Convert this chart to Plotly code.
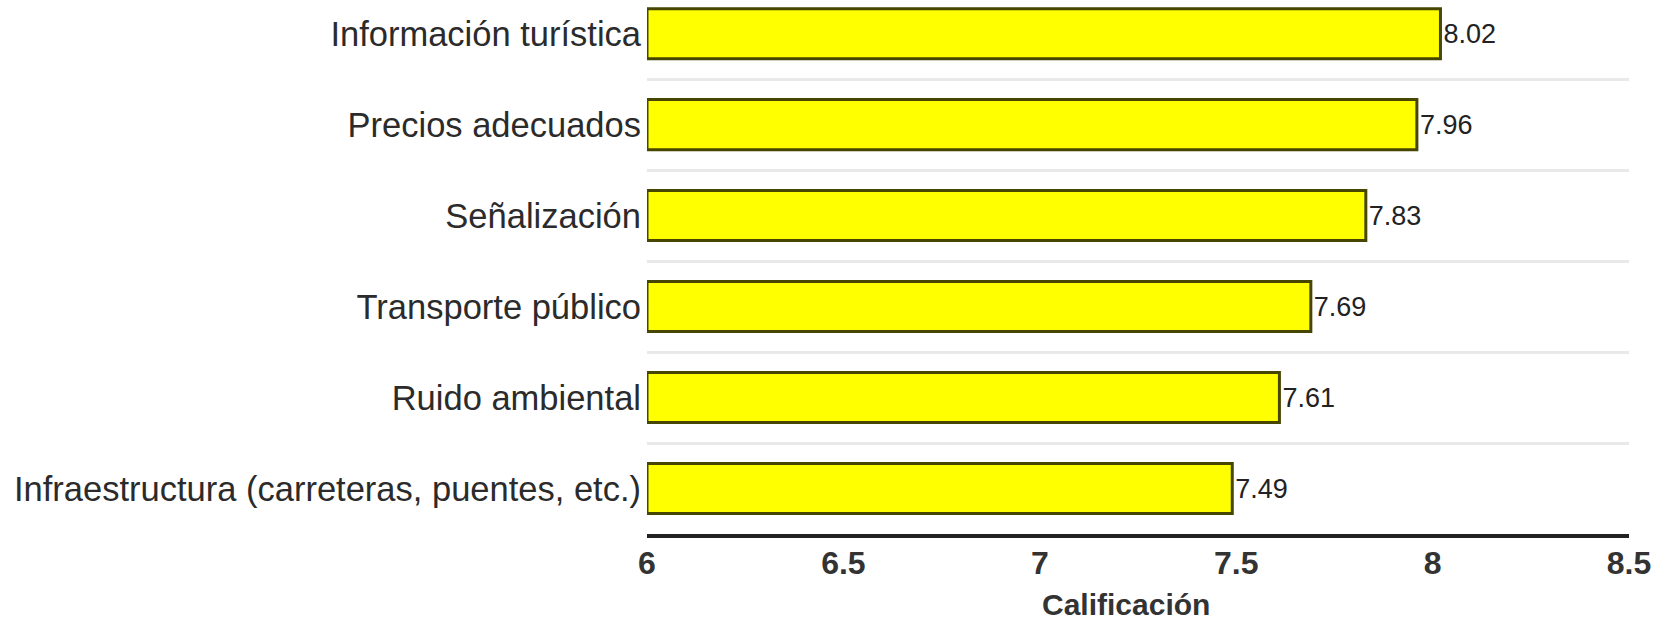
import plotly.graph_objects as go

categories = [
    "Información turística",
    "Precios adecuados",
    "Señalización",
    "Transporte público",
    "Ruido ambiental",
    "Infraestructura (carreteras, puentes, etc.)",
]
values = [8.02, 7.96, 7.83, 7.69, 7.61, 7.49]
x_ticks = [6, 6.5, 7, 7.5, 8, 8.5]
x_tick_labels = ["6", "6.5", "7", "7.5", "8", "8.5"]
x_title = "Calificación"

AXIS_MIN = 6
cats_bt = categories[::-1]
vals_bt = values[::-1]

fig = go.Figure()
fig.add_trace(go.Bar(
    y=cats_bt,
    x=[v - AXIS_MIN for v in vals_bt],
    base=[AXIS_MIN] * len(vals_bt),
    orientation="h",
    width=0.55,
    marker=dict(color="#ffff00", line=dict(color="#464600", width=3)),
    text=[f"{v:.2f}" for v in vals_bt],
    textposition="outside",
    constraintext="none",
    cliponaxis=False,
    textfont=dict(family="Arial, Liberation Sans, sans-serif", size=27, color="#222222"),
    hoverinfo="skip",
))

fig.update_layout(
    width=1665,
    height=624,
    margin=dict(l=647, r=36, t=0, b=90, pad=0),
    paper_bgcolor="white",
    plot_bgcolor="white",
    showlegend=False,
    font=dict(family="Arial, Liberation Sans, sans-serif"),
    xaxis=dict(
        range=[6, 8.5],
        tickvals=x_ticks,
        ticktext=x_tick_labels,
        showgrid=False,
        zeroline=False,
        showline=True,
        linecolor="#222222",
        linewidth=3.5,
        ticks="",
        ticklabelstandoff=-2,
        tickfont=dict(family="Arial, Liberation Sans, sans-serif", size=32, color="#333333", weight="bold"),
        automargin=False,
        fixedrange=True,
    ),
    yaxis=dict(
        type="category",
        categoryorder="array",
        categoryarray=cats_bt,
        range=[-0.5, 5.37],
        tickson="boundaries",
        showgrid=True,
        gridcolor="#e9e9e9",
        gridwidth=3,
        showline=False,
        ticks="",
        ticklabelstandoff=5,
        tickfont=dict(family="Arial, Liberation Sans, sans-serif", size=34.5, color="#2b2b2b"),
        automargin=False,
        fixedrange=True,
    ),
    annotations=[dict(
        text=x_title,
        xref="paper", yref="paper",
        x=0.488, y=-0.132,
        xanchor="center", yanchor="middle",
        showarrow=False,
        font=dict(family="Arial, Liberation Sans, sans-serif", size=30, color="#333333", weight="bold"),
    )],
)

fig.write_html(
    "out.html",
    config={"displayModeBar": False, "staticPlot": True},
    post_script="document.body.style.margin='0';document.body.style.padding='0';",
)
